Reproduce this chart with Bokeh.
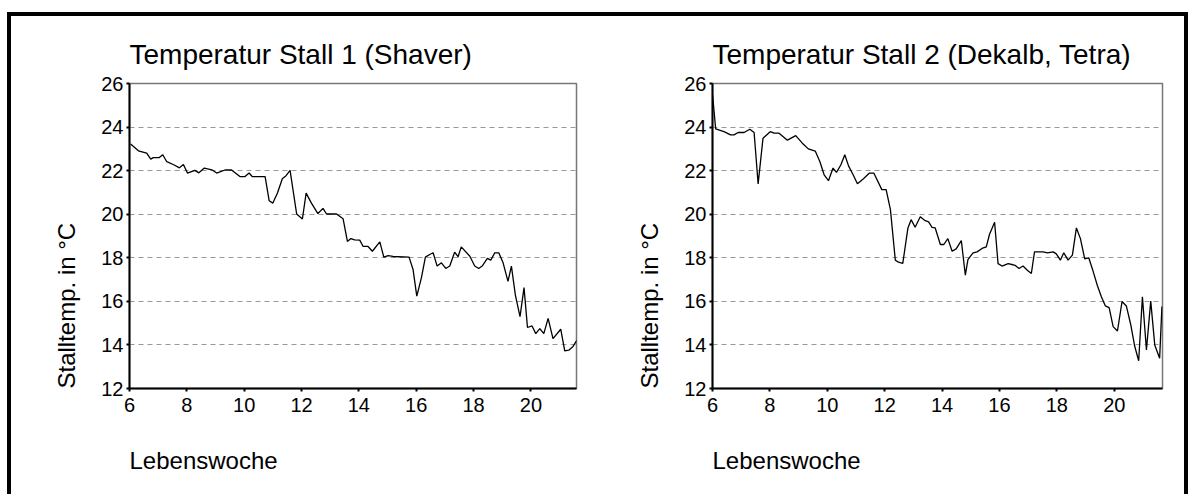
from bokeh.plotting import figure
from bokeh.layouts import row
from bokeh.models import Title, FixedTicker, Range1d
from bokeh.embed import file_html
from bokeh.resources import INLINE

# ---- data (Lebenswoche, Stalltemperatur in °C) ----
weeks1 = [6.04, 6.31, 6.60, 6.74, 6.83, 7.04, 7.16, 7.30, 7.56, 7.74, 7.88, 8.02, 8.28, 8.42,
          8.61, 8.87, 9.04, 9.33, 9.56, 9.85, 10.03, 10.17, 10.28, 10.73, 10.87, 11.00, 11.16,
          11.33, 11.46, 11.60, 11.83, 12.03, 12.16, 12.34, 12.57, 12.75, 12.87, 13.22, 13.45,
          13.60, 13.72, 13.85, 14.03, 14.15, 14.32, 14.47, 14.73, 14.87, 15.02, 15.19, 15.75,
          15.89, 16.02, 16.18, 16.32, 16.47, 16.59, 16.73, 16.88, 17.03, 17.17, 17.34, 17.46,
          17.57, 17.87, 18.04, 18.18, 18.30, 18.48, 18.60, 18.74, 18.88, 19.03, 19.20, 19.32,
          19.46, 19.62, 19.76, 19.88, 20.04, 20.17, 20.31, 20.45, 20.60, 20.77, 21.04, 21.18,
          21.32, 21.47, 21.60]
temp1 = [23.22, 22.91, 22.80, 22.53, 22.60, 22.60, 22.73, 22.41, 22.26, 22.13, 22.28, 21.89, 22.01, 21.90,
         22.12, 22.04, 21.89, 22.03, 22.03, 21.73, 21.73, 21.89, 21.73, 21.73, 20.62, 20.51, 20.97,
         21.63, 21.77, 22.01, 20.01, 19.78, 20.97, 20.52, 20.03, 20.27, 20.01, 20.01, 19.79,
         18.75, 18.88, 18.82, 18.81, 18.52, 18.52, 18.30, 18.73, 18.03, 18.10, 18.06, 18.03,
         17.46, 16.24, 17.08, 18.03, 18.15, 18.23, 17.62, 17.77, 17.51, 17.62, 18.26, 18.05,
         18.50, 18.07, 17.62, 17.51, 17.62, 17.97, 17.89, 18.23, 18.23, 17.77, 16.92, 17.62,
         16.27, 15.30, 16.63, 14.80, 14.87, 14.52, 14.75, 14.52, 15.22, 14.29, 14.72, 13.73,
         13.76, 13.93, 14.21]

weeks2 = [6.00, 6.11, 6.40, 6.63, 6.75, 6.89, 7.10, 7.30, 7.45, 7.59, 7.76, 8.01, 8.15, 8.32,
          8.61, 8.90, 9.13, 9.34, 9.58, 9.74, 9.89, 10.04, 10.20, 10.32, 10.47, 10.61, 10.74,
          10.90, 11.05, 11.26, 11.47, 11.62, 11.90, 12.05, 12.20, 12.37, 12.48, 12.63, 12.81,
          12.92, 13.06, 13.24, 13.39, 13.53, 13.65, 13.76, 13.94, 14.06, 14.20, 14.35, 14.49,
          14.67, 14.81, 14.90, 15.08, 15.22, 15.39, 15.54, 15.65, 15.83, 15.95, 16.09, 16.30,
          16.47, 16.55, 16.68, 16.82, 16.97, 17.11, 17.22, 17.52, 17.67, 17.87, 17.98, 18.12,
          18.24, 18.39, 18.54, 18.68, 18.82, 18.97, 19.11, 19.26, 19.41, 19.55, 19.69, 19.82,
          19.96, 20.11, 20.27, 20.42, 20.57, 20.71, 20.85, 20.98, 21.12, 21.27, 21.41, 21.58,
          21.66]
temp2 = [25.50, 23.92, 23.79, 23.64, 23.64, 23.75, 23.75, 23.90, 23.75, 21.39, 23.49, 23.79, 23.72, 23.72,
         23.40, 23.61, 23.26, 23.00, 22.90, 22.42, 21.81, 21.54, 22.12, 21.92, 22.26, 22.73, 22.22,
         21.81, 21.40, 21.63, 21.89, 21.89, 21.13, 21.13, 20.21, 17.89, 17.80, 17.74, 19.37,
         19.75, 19.40, 19.88, 19.72, 19.65, 19.40, 19.37, 18.61, 18.61, 18.88, 18.30, 18.41,
         18.79, 17.20, 17.92, 18.23, 18.27, 18.43, 18.50, 19.07, 19.63, 17.73, 17.62, 17.73,
         17.68, 17.65, 17.51, 17.62, 17.43, 17.28, 18.27, 18.27, 18.23, 18.27, 18.18, 17.89,
         18.23, 17.89, 18.12, 19.37, 18.88, 17.95, 18.00, 17.39, 16.73, 16.21, 15.79, 15.71,
         14.84, 14.64, 15.99, 15.79, 14.95, 13.95, 13.27, 16.21, 13.77, 16.01, 14.00, 13.39,
         15.76]

x_ticks = [6, 8, 10, 12, 14, 16, 18, 20]
y_ticks = [12, 14, 16, 18, 20, 22, 24, 26]
titles = ["Temperatur Stall 1 (Shaver)", "Temperatur Stall 2 (Dekalb, Tetra)"]
y_label = "Stalltemp. in °C"
x_label = "Lebenswoche"

FONT = "Liberation Sans"


def make_panel(title, xs, ys, xmax, fw, mbr):
    p = figure(frame_width=fw, frame_height=305,
               x_range=Range1d(6, xmax), y_range=Range1d(12, 26),
               output_backend="svg", toolbar_location=None,
               min_border_left=118, min_border_right=mbr,
               min_border_top=67, min_border_bottom=97,
               background_fill_color="white", border_fill_color="white")
    p.title.text = title
    p.title.align = "left"
    p.title.offset = 0
    p.title.text_font = FONT
    p.title.text_font_size = "28px"
    p.title.text_font_style = "normal"
    p.title.text_color = "black"
    p.title.standoff = 27

    p.line(xs, ys, line_color="black", line_width=1.3)

    for ax, ticks in ((p.xaxis[0], x_ticks), (p.yaxis[0], y_ticks)):
        ax.ticker = FixedTicker(ticks=ticks)
        ax.minor_tick_line_color = None
        ax.major_tick_in = 0
        ax.major_tick_out = 3
        ax.major_tick_line_width = 2
        ax.axis_line_width = 2
        ax.axis_line_color = "black"
        ax.major_tick_line_color = "black"
        ax.major_label_text_font = FONT
        ax.major_label_text_font_size = "20px"
        ax.major_label_text_color = "black"
    p.xaxis.major_label_standoff = 6
    p.yaxis.major_label_standoff = 3

    p.xgrid.grid_line_color = None
    p.ygrid.grid_line_color = "#999999"
    p.ygrid.grid_line_dash = "5 4"
    p.ygrid.grid_line_width = 1
    p.outline_line_color = "#777777"
    p.outline_line_width = 1.5

    yl = Title(text=y_label, align="left", text_font=FONT, text_font_size="24px",
               text_font_style="normal", text_color="black", standoff=38)
    p.add_layout(yl, "left")
    xl = Title(text=x_label, align="left", text_font=FONT, text_font_size="24px",
               text_font_style="normal", text_color="black", standoff=60)
    p.add_layout(xl, "below")
    return p


p1 = make_panel(titles[0], weeks1, temp1, 21.59, 447, 18)
p2 = make_panel(titles[1], weeks2, temp2, 21.68, 450, 22)

layout = row(p1, p2, styles={"border": "4px solid black", "margin-top": "12px",
                             "margin-left": "7px", "background-color": "white"})

open("out.html", "w").write(file_html(layout, INLINE))
